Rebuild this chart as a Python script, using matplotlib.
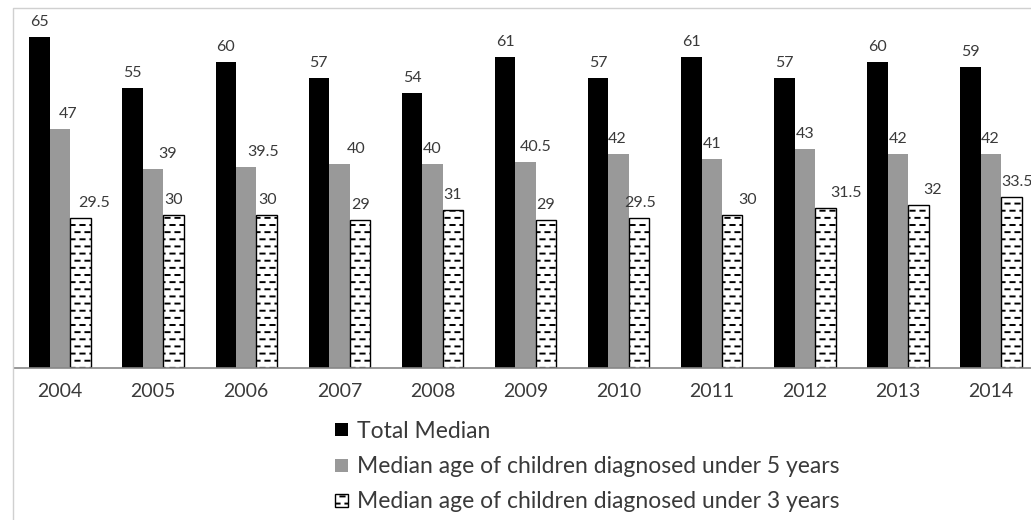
import numpy as np
import matplotlib
matplotlib.use("Agg")
import matplotlib.pyplot as plt
import matplotlib.hatch as mhatch
from matplotlib.path import Path
from matplotlib.lines import Line2D

# ---------------- data ----------------
years = ["2004", "2005", "2006", "2007", "2008", "2009", "2010", "2011", "2012", "2013", "2014"]
total_median = [65, 55, 60, 57, 54, 61, 57, 61, 57, 60, 59]
under5_median = [47, 39, 39.5, 40, 40, 40.5, 42, 41, 43, 42, 42]
under3_median = [29.5, 30, 30, 29, 31, 29, 29.5, 30, 31.5, 32, 33.5]
series_names = ["Total Median",
                "Median age of children diagnosed under 5 years",
                "Median age of children diagnosed under 3 years"]

# label horizontal nudges (pixels), as placed in the original
gray_label_dx = [8, 14, 17, 17, 0, 10, -1, 0, 0, 0, -1]
hatch_label_dx = [14, 0, 1, 1, 0, 0, 1, 15, 21, 14, 5]


# ---------------- custom dashed "brick" hatch for '-' ----------------
class DashHatch(mhatch.HatchPatternBase):
    rows = 14
    cols = 10

    def __init__(self, hatch, density):
        self.on = hatch.count('-') > 0
        self.num_vertices = self.rows * self.cols * 2 if self.on else 0

    def set_vertices_and_codes(self, vertices, codes):
        L = 0.42 / self.cols
        k = 0
        for r in range(self.rows):
            y = (r + 0.5) / self.rows
            shift = 0.5 * (r % 2)
            for c in range(self.cols):
                x0 = (c + shift + 0.04) / self.cols
                vertices[k] = (x0, y)
                vertices[k + 1] = (x0 + L, y)
                codes[k] = Path.MOVETO
                codes[k + 1] = Path.LINETO
                k += 2


mhatch._hatch_types = [DashHatch if t is mhatch.HorizontalHatch else t
                       for t in mhatch._hatch_types]

plt.rcParams['font.family'] = ['Lato', 'DejaVu Sans']
plt.rcParams['hatch.linewidth'] = 1.4

W, H = 1031, 520
fig = plt.figure(figsize=(W / 100, H / 100), dpi=100)

# axes geometry (pixels)
x_left, cat_w = 13.5, 93.1
y_base, px_per_unit = 368, 5.095
ymax = 70
ax = fig.add_axes([x_left / W, (H - y_base) / H,
                   len(years) * cat_w / W, ymax * px_per_unit / H])

x = np.arange(len(years))
bw = 0.22
text_col = "#3a3a3a"

b1 = ax.bar(x - bw, total_median, bw, color="black", linewidth=0, label=series_names[0])
b2 = ax.bar(x, under5_median, bw, color="#999999", linewidth=0, label=series_names[1])
b3 = ax.bar(x + bw, under3_median, bw, facecolor="white", edgecolor="black",
            linewidth=1.0, hatch="-", label=series_names[2])

ax.set_xlim(-0.5, len(years) - 0.5)
ax.set_ylim(0, ymax)
ax.set_yticks([])
ax.set_xticks(x)
ax.set_xticklabels(years, fontsize=14, color=text_col)
ax.tick_params(axis='x', length=0, pad=11)
for s in ["top", "right", "left"]:
    ax.spines[s].set_visible(False)
ax.spines["bottom"].set_color("#868686")
ax.spines["bottom"].set_linewidth(1.2)


def fmt(v):
    return f"{v:g}"


for i in range(len(years)):
    ax.annotate(fmt(total_median[i]), (x[i] - bw, total_median[i]),
                xytext=(0, 8), textcoords="offset pixels",
                ha="center", va="bottom", fontsize=11.5, color=text_col)
    ax.annotate(fmt(under5_median[i]), (x[i], under5_median[i]),
                xytext=(gray_label_dx[i], 8), textcoords="offset pixels",
                ha="center", va="bottom", fontsize=11.5, color=text_col)
    ax.annotate(fmt(under3_median[i]), (x[i] + bw, under3_median[i]),
                xytext=(hatch_label_dx[i], 8), textcoords="offset pixels",
                ha="center", va="bottom", fontsize=11.5, color=text_col)

# chart-area border (top and left visible, rest cropped)
fig.add_artist(Line2D([13 / W, 13 / W, 1.01], [-0.01, (H - 8) / H, (H - 8) / H],
                      transform=fig.transFigure, color="#d0d0d0", linewidth=1.0))

leg = fig.legend(handles=[b1, b2, b3], loc="upper left",
                 bbox_to_anchor=(335 / W, (H - 421) / H),
                 frameon=False, fontsize=16.5, handlelength=0.55, handleheight=0.5,
                 handletextpad=0.42, labelspacing=0.62, borderpad=0, borderaxespad=0,
                 labelcolor=text_col)

fig.savefig("out.png", dpi=100)
